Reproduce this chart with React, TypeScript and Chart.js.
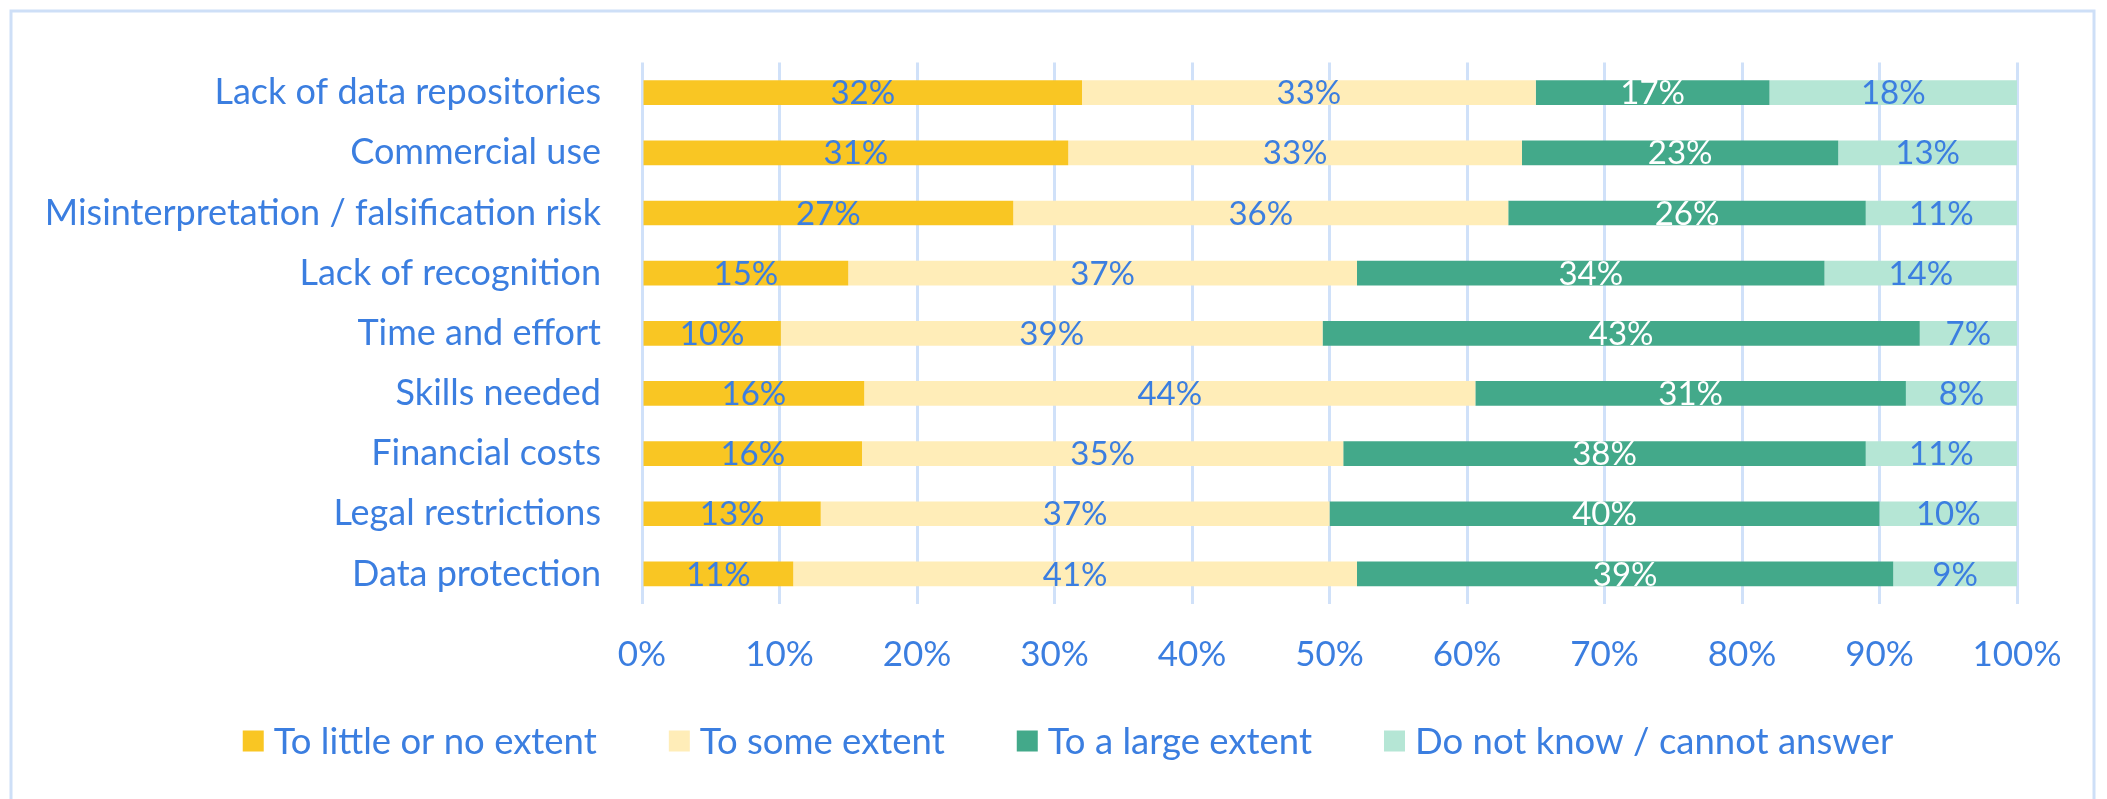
import React, { useEffect, useRef } from "react";
import { Chart, registerables } from "chart.js";

Chart.register(...registerables);

const categories = [
  "Lack of data repositories",
  "Commercial use",
  "Misinterpretation / falsification risk",
  "Lack of recognition",
  "Time and effort",
  "Skills needed",
  "Financial costs",
  "Legal restrictions",
  "Data protection",
];

const seriesNames = [
  "To little or no extent",
  "To some extent",
  "To a large extent",
  "Do not know / cannot answer",
];

const littleOrNo = [32, 31, 27, 15, 10, 16, 16, 13, 11];
const someExtent = [33, 33, 36, 37, 39, 44, 35, 37, 41];
const largeExtent = [17, 23, 26, 34, 43, 31, 38, 40, 39];
const doNotKnow = [18, 13, 11, 14, 7, 8, 11, 10, 9];

const tickValues = [0, 10, 20, 30, 40, 50, 60, 70, 80, 90, 100];

const seriesColors = ["#F9C623", "#FFEDB8", "#43A98A", "#B5E6D5"];
const labelColors = ["#3B7EE0", "#3B7EE0", "#FFFFFF", "#3B7EE0"];
const TEXT_BLUE = "#3B7EE0";
const GRID_BLUE = "#D0E1F9";
const FONT = "Lato";
const CAT_SIZE = 36;
const TICK_SIZE = 35;
const DATA_SIZE = 33;
const LEGEND_SIZE = 36.5;

const rawSeries = [littleOrNo, someExtent, largeExtent, doNotKnow];
const rowSums = categories.map((_, i) => rawSeries.reduce((s, arr) => s + arr[i], 0));
const normalized = rawSeries.map((arr) => arr.map((v, i) => (v / rowSums[i]) * 100));

const framePlugin = {
  id: "frame",
  beforeDraw(chart: any) {
    const ctx = chart.ctx;
    ctx.save();
    ctx.fillStyle = "#FFFFFF";
    ctx.fillRect(0, 0, chart.width, chart.height);
    ctx.strokeStyle = "#CEDFF7";
    ctx.lineWidth = 3;
    ctx.strokeRect(11, 11, 2083, 820);
    ctx.restore();
  },
};

const dataLabelPlugin = {
  id: "dataLabels",
  afterDatasetsDraw(chart: any) {
    const ctx = chart.ctx;
    ctx.save();
    ctx.font = `${DATA_SIZE}px ${FONT}`;
    ctx.textAlign = "center";
    ctx.textBaseline = "middle";
    chart.data.datasets.forEach((ds: any, di: number) => {
      const meta = chart.getDatasetMeta(di);
      meta.data.forEach((bar: any, i: number) => {
        const raw = rawSeries[di][i];
        const cx = (bar.x + bar.base) / 2;
        ctx.fillStyle = labelColors[di];
        ctx.fillText(`${raw}%`, cx, bar.y + 1);
      });
    });
    ctx.restore();
  },
};

const legendPlugin = {
  id: "customLegend",
  afterDraw(chart: any) {
    const ctx = chart.ctx;
    ctx.save();
    ctx.font = `${LEGEND_SIZE}px ${FONT}`;
    ctx.textBaseline = "middle";
    ctx.textAlign = "left";
    const box = 21;
    const gapBoxText = 10;
    const gapItems = 72;
    const items = chart.data.datasets.map((ds: any) => {
      const tw = ctx.measureText(ds.label).width;
      return { label: ds.label, color: ds.backgroundColor, tw, w: box + gapBoxText + tw };
    });
    const total = items.reduce((s: number, it: any) => s + it.w, 0) + gapItems * (items.length - 1);
    let x = 1068 - total / 2;
    const y = 741;
    items.forEach((it: any) => {
      ctx.fillStyle = it.color;
      ctx.fillRect(x, y - box / 2, box, box);
      ctx.fillStyle = TEXT_BLUE;
      ctx.fillText(it.label, x + box + gapBoxText, y + 1);
      x += it.w + gapItems;
    });
    ctx.restore();
  },
};

export default function App() {
  const canvasRef = useRef<HTMLCanvasElement | null>(null);

  useEffect(() => {
    document.body.style.margin = "0";
    let chart: Chart | null = null;
    let cancelled = false;
    const make = () => {
      if (cancelled || !canvasRef.current) return;
      chart = new Chart(canvasRef.current, {
        type: "bar",
        data: {
          labels: categories,
          datasets: seriesNames.map((name, k) => ({
            label: name,
            data: normalized[k],
            backgroundColor: seriesColors[k],
            borderWidth: 0,
            barPercentage: 0.41,
            categoryPercentage: 1,
          })),
        },
        options: {
          indexAxis: "y",
          responsive: false,
          animation: false,
          devicePixelRatio: 1,
          layout: { padding: { left: 0, right: 90, top: 50, bottom: 125 } },
          plugins: {
            legend: { display: false },
            tooltip: { enabled: false },
          },
          scales: {
            x: {
              stacked: true,
              min: 0,
              max: 100,
              afterBuildTicks(scale: any) {
                scale.ticks = tickValues.map((v) => ({ value: v }));
              },
              afterFit(scale: any) {
                scale.height = 70;
              },
              grid: { color: GRID_BLUE, lineWidth: 3, drawTicks: false },
              border: { display: false },
              ticks: {
                color: TEXT_BLUE,
                font: { family: FONT, size: TICK_SIZE },
                padding: 30,
                maxRotation: 0,
                autoSkip: false,
                callback: (v: any) => `${v}%`,
              },
            },
            y: {
              stacked: true,
              afterFit(scale: any) {
                scale.width = 642;
              },
              grid: { display: false, drawTicks: false },
              border: { display: false },
              ticks: {
                color: TEXT_BLUE,
                font: { family: FONT, size: CAT_SIZE },
                padding: 41,
                autoSkip: false,
              },
            },
          },
        },
        plugins: [framePlugin, dataLabelPlugin, legendPlugin],
      });
    };
    if ((document as any).fonts && (document as any).fonts.load) {
      (document as any).fonts.load(`${CAT_SIZE}px ${FONT}`).then(make, make);
    } else {
      make();
    }
    return () => {
      cancelled = true;
      if (chart) chart.destroy();
    };
  }, []);

  return (
    <div style={{ width: 2107, height: 799 }}>
      <canvas ref={canvasRef} width={2107} height={799} style={{ display: "block" }} />
    </div>
  );
}
